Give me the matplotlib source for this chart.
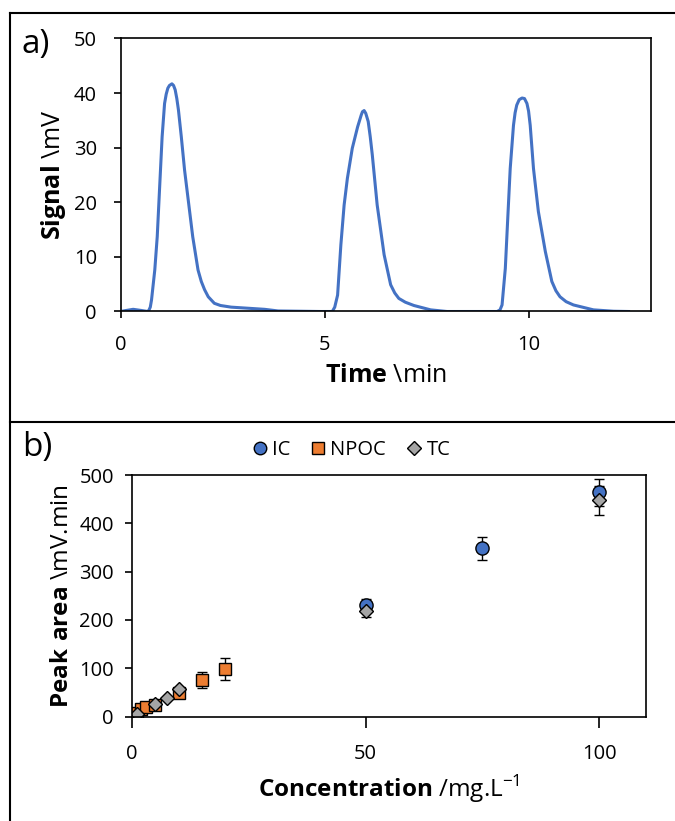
import matplotlib
matplotlib.use("Agg")
import matplotlib.pyplot as plt
from matplotlib.lines import Line2D

plt.rcParams["font.family"] = ["Open Sans", "DejaVu Sans"]
plt.rcParams["mathtext.fontset"] = "custom"
plt.rcParams["mathtext.rm"] = "Open Sans"
plt.rcParams["mathtext.bf"] = "Open Sans:bold"

# a) chromatogram
time_min = [0.0, 0.15, 0.31, 0.5, 0.67, 0.70, 0.73, 0.76, 0.84, 0.90, 0.96, 1.02, 1.08, 1.12,
            1.16, 1.20, 1.26, 1.30, 1.34, 1.38, 1.42, 1.49, 1.57, 1.67, 1.77, 1.90, 1.98,
            2.06, 2.15, 2.30, 2.45, 2.71, 3.53, 3.86, 4.9,
            5.19, 5.25, 5.32, 5.40, 5.48, 5.56, 5.68, 5.81, 5.90, 5.93, 5.97, 6.01, 6.07,
            6.12, 6.17, 6.29, 6.46, 6.62, 6.72, 6.82, 6.98, 7.19, 7.60, 8.0,
            9.23, 9.30, 9.35, 9.43, 9.49, 9.55, 9.63, 9.67, 9.71, 9.77, 9.84, 9.90,
            9.96, 10.00, 10.04, 10.12, 10.24, 10.41, 10.57, 10.67, 10.77, 10.92, 11.10,
            11.59, 12.08, 12.45]
signal_mv = [0.0, 0.2, 0.4, 0.2, 0.0, 0.3, 0.8, 2.1, 7.6, 13.7, 22.9, 32.0, 38.1, 39.8,
             40.9, 41.4, 41.7, 41.4, 40.6, 39.0, 36.9, 32.0, 25.9, 19.8, 13.7, 7.6, 5.5,
             4.0, 2.7, 1.5, 1.1, 0.8, 0.4, 0.1, 0.0,
             0.0, 0.8, 3.0, 12.2, 19.5, 24.4, 29.9, 33.8, 36.0, 36.6, 36.8, 36.3, 34.8,
             32.0, 28.7, 19.5, 10.4, 4.9, 3.4, 2.4, 1.7, 1.1, 0.3, 0.0,
             0.0, 0.3, 1.2, 7.9, 17.1, 26.2, 34.1, 36.4, 37.8, 38.8, 39.1, 39.0,
             38.1, 36.7, 34.1, 26.2, 18.3, 11.0, 5.5, 3.8, 2.7, 1.8, 1.2,
             0.3, 0.05, 0.0]

# b) calibration
ic_conc = [50, 75, 100]
ic_area = [231, 348, 464]
ic_err = [12, 23, 28]
npoc_conc = [1, 2, 3, 5, 10, 15, 20]
npoc_area = [7, 15, 19, 24, 48, 76, 99]
npoc_err = [2, 2, 3, 3, 7, 16, 23]
tc_conc = [1, 5, 7.5, 10, 50, 100]
tc_area = [6, 26, 38, 57, 219, 448]
tc_err = [1, 2, 2, 3, 14, 30]

W, H = 675, 821
fig = plt.figure(figsize=(W / 100, H / 100), dpi=100)

def box(l, t, r, b):
    return [l / W, 1 - b / H, (r - l) / W, (b - t) / H]

def style(ax):
    for s in ax.spines.values():
        s.set_linewidth(1.2)
        s.set_color("black")
    ax.tick_params(direction="out", length=5, width=1.2, labelsize=14.5, color="black")

# panel a
ax1 = fig.add_axes(box(120.5, 38.5, 651, 311.5))
ax1.plot(time_min, signal_mv, color="#4472C4", lw=2.2, solid_joinstyle="round")
ax1.set_xlim(0, 13)
ax1.set_ylim(0, 50)
ax1.set_xticks([0, 5, 10])
ax1.set_yticks(range(0, 51, 10))
style(ax1)
ax1.tick_params(axis="y", pad=12)
ax1.tick_params(axis="x", pad=12)
ax1.set_xlabel(r"$\mathbf{Time}$ \min", fontsize=18, labelpad=6)
ax1.set_ylabel(r"$\mathbf{Signal}$ \mV", fontsize=18, labelpad=4)

# panel b
ax2 = fig.add_axes(box(132, 475, 646, 716.5))
ax2.errorbar(ic_conc, ic_area, yerr=ic_err, fmt="o", ms=9.5, mfc="#4472C4", mec="black",
             mew=1, ecolor="black", elinewidth=1, capsize=3.5, label="IC")
ax2.errorbar(npoc_conc, npoc_area, yerr=npoc_err, fmt="s", ms=9, mfc="#ED7D31", mec="black",
             mew=1, ecolor="black", elinewidth=1, capsize=3.5, label="NPOC")
ax2.errorbar(tc_conc, tc_area, yerr=tc_err, fmt="D", ms=7.5, mfc="#A5A5A5", mec="black",
             mew=1, ecolor="black", elinewidth=1, capsize=3.5, label="TC")
ax2.set_xlim(0, 110)
ax2.set_ylim(0, 500)
ax2.set_xticks([0, 50, 100])
ax2.set_yticks(range(0, 501, 100))
style(ax2)
ax2.tick_params(axis="y", pad=8)
ax2.tick_params(axis="x", length=8, pad=12)
ax2.set_xlabel(r"$\mathbf{Concentration}$ /mg.L$^{-1}$", fontsize=17.5, labelpad=6)
ax2.set_ylabel(r"$\mathbf{Peak\ area}$ \mV.min", fontsize=17.5, labelpad=4)

handles = [Line2D([], [], ls="none", marker="o", ms=9, mfc="#4472C4", mec="black"),
           Line2D([], [], ls="none", marker="s", ms=8.5, mfc="#ED7D31", mec="black"),
           Line2D([], [], ls="none", marker="D", ms=7, mfc="#A5A5A5", mec="black")]
fig.legend(handles, ["IC", "NPOC", "TC"], loc="center", ncol=3, frameon=False,
           bbox_to_anchor=(350 / W, 1 - 450 / H), fontsize=14.5, handletextpad=0.1,
           columnspacing=0.9, handlelength=1.0)

# panel labels and frame
fig.text(22 / W, 1 - 45 / H, "a)", fontsize=24, va="center", ha="left")
fig.text(22 / W, 1 - 447 / H, "b)", fontsize=24, va="center", ha="left")
for xs, ys in [((10, W), (13, 13)), ((10, 10), (13, H)), ((10, W), (422, 422))]:
    fig.add_artist(Line2D([x / W for x in xs], [1 - y / H for y in ys], color="black", lw=1.5))

fig.savefig("out.png", dpi=100)
